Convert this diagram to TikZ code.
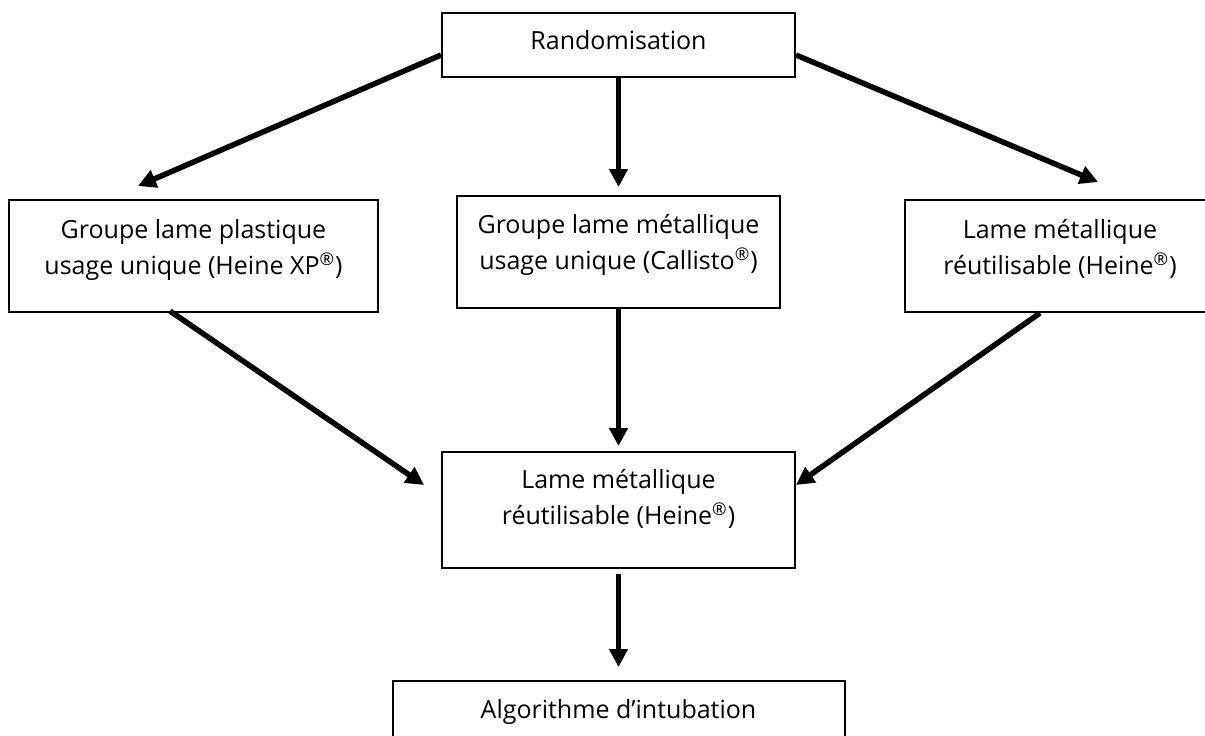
\documentclass[tikz,border=0pt]{standalone}
\usepackage{fontspec}
\setmainfont{Open Sans}
\usetikzlibrary{arrows.meta,calc}
\tikzset{
  box/.style={draw, line width=1pt, inner sep=0pt, align=center,
    font=\fontsize{12.5}{18}\selectfont},
  arr/.style={line width=2.75pt, -{Triangle[length=9pt,width=9pt]}}
}
\begin{document}
\begin{tikzpicture}[x=0.5pt,y=-0.5pt]
\useasboundingbox (0,0) rectangle (1205,735);
\clip (0,0) rectangle (1205,735);
\node[box, minimum width=176.5pt, minimum height=32pt, text depth=5pt] (rand) at (618.5,45) {Randomisation};
\node[box, minimum width=184.5pt, minimum height=56pt, text depth=9pt] (g1) at (193.5,256)
  {Groupe lame plastique\\usage unique (Heine XP\textsuperscript{®})};
\node[box, minimum width=161.5pt, minimum height=56pt, text depth=10.5pt] (g2) at (618.5,252)
  {Groupe lame métallique\\usage unique (Callisto\textsuperscript{®})};
\node[box, minimum width=155pt, minimum height=56pt, text depth=9pt] (g3) at (1060,256)
  {Lame métallique\\réutilisable (Heine\textsuperscript{®})};
\node[box, minimum width=176.5pt, minimum height=58pt, text depth=13pt] (lm) at (618.5,510)
  {Lame métallique\\réutilisable (Heine\textsuperscript{®})};
\node[box, minimum width=226pt, minimum height=40pt, text depth=12pt] (algo) at (618.5,721)
  {Algorithme d’intubation};
\draw[arr] ($(rand.west)+(0,10)$) -- ($(g1.north)+(-55.5,-13)$);
\draw[arr] (rand.south) -- ($(g2.north)+(0,-8)$);
\draw[arr] ($(rand.east)+(0,10)$) -- ($(g3.north)+(38,-17)$);
\draw[arr] ($(g1.south)+(-23.5,-2)$) -- ($(lm.west)+(-17,-25)$);
\draw[arr] (g2.south) -- ($(lm.north)+(0,-5)$);
\draw[arr] ($(g3.south)+(-20,0)$) -- ($(lm.east)+(0,-25)$);
\draw[arr] ($(lm.south)+(0,5)$) -- ($(algo.north)+(0,-13)$);
\end{tikzpicture}
\end{document}
